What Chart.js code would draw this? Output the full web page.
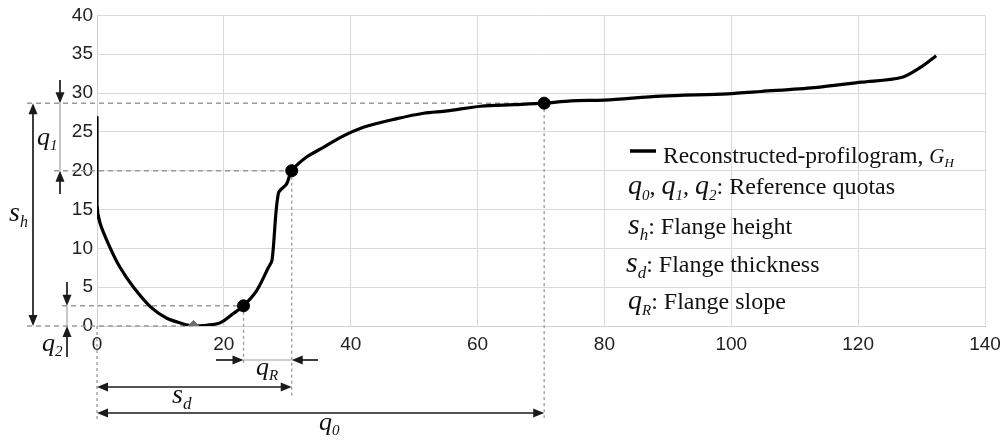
<!DOCTYPE html>
<html>
<head>
<meta charset="utf-8">
<script src="https://cdn.jsdelivr.net/npm/chart.js@4.4.1/dist/chart.umd.min.js"></script>
<style>
  html, body { margin: 0; padding: 0; background: #fff; }
  #wrap { width: 1008px; height: 445px; }
</style>
</head>
<body>
<div id="wrap"><canvas id="profile-chart" width="1008" height="445"></canvas></div>
<script>
// reconstructed profilogram G_H
const profileX = [0, 0, 0.5, 2, 3.6, 5.7, 8.4, 11, 13.5, 15.2, 17.3, 19.4, 21.5, 23.1, 25.2, 27, 27.6, 28.6, 29.9, 30.7,
  33.1, 35.7, 38.4, 42, 47.3, 51.5, 55.2, 60.5, 65.7, 70.5, 74.7, 80, 88.9, 99.4, 104.7, 113.1, 120.5, 126.8, 130, 132.3];
const profileY = [27, 15.6, 13.2, 10.2, 7.6, 5.05, 2.5, 1.0, 0.3, 0, 0.1, 0.4, 1.6, 2.6, 4.6, 7.5, 8.5, 17.1, 18.3, 20,
  21.8, 23.0, 24.3, 25.6, 26.7, 27.4, 27.7, 28.3, 28.5, 28.7, 29.0, 29.1, 29.6, 29.9, 30.2, 30.7, 31.4, 32.0, 33.4, 34.8];

// reference points: q2, q1, q0
const refX = [23.1, 30.7, 70.5];
const refY = [2.6, 20, 28.7];
// lowest point of the flange
const minX = [15.2];
const minY = [0];

const xTicks = [0, 20, 40, 60, 80, 100, 120, 140];
const yTicks = [0, 5, 10, 15, 20, 25, 30, 35, 40];

const ctx = document.getElementById('profile-chart').getContext('2d');

const SERIF = '"Liberation Serif", "DejaVu Serif", serif';
const DARK = '#1a1a1a';

function arrowHead(c, x, y, dx, dy, len, half) {
    // tip at (x,y), pointing along (dx,dy)
    c.beginPath();
    c.moveTo(x, y);
    c.lineTo(x - dx * len - dy * half, y - dy * len + dx * half);
    c.lineTo(x - dx * len + dy * half, y - dy * len - dx * half);
    c.closePath();
    c.fill();
}

function segment(c, x1, y1, x2, y2, color, width) {
    c.strokeStyle = color;
    c.lineWidth = width;
    c.beginPath();
    c.moveTo(x1, y1);
    c.lineTo(x2, y2);
    c.stroke();
}

// arrow from (x1,y1) to (x2,y2); head at the end, and at the start too if both
function arrow(c, x1, y1, x2, y2, both) {
    const L = Math.hypot(x2 - x1, y2 - y1);
    const dx = (x2 - x1) / L, dy = (y2 - y1) / L;
    const len = 11, half = 4.5;
    c.fillStyle = DARK;
    segment(c, x1 + (both ? dx * len * 0.8 : 0), y1 + (both ? dy * len * 0.8 : 0),
        x2 - dx * len * 0.8, y2 - dy * len * 0.8, DARK, 1.7);
    arrowHead(c, x2, y2, dx, dy, len, half);
    if (both) arrowHead(c, x1, y1, -dx, -dy, len, half);
}

// italic symbol with italic subscript
function sym(c, base, sub, x, y, size, subSize) {
    c.fillStyle = '#111';
    c.textBaseline = 'alphabetic';
    c.textAlign = 'left';
    c.font = 'italic ' + size + 'px ' + SERIF;
    c.fillText(base, x, y);
    const w = c.measureText(base).width;
    c.font = 'italic ' + (subSize || Math.round(size * 0.6)) + 'px ' + SERIF;
    c.fillText(sub, x + w, y + size * 0.2);
    return x + w + c.measureText(sub).width;
}

function plain(c, text, x, y, size) {
    c.fillStyle = '#111';
    c.textBaseline = 'alphabetic';
    c.textAlign = 'left';
    c.font = size + 'px ' + SERIF;
    c.fillText(text, x, y);
    return x + c.measureText(text).width;
}

const guides = {
    id: 'guides',
    beforeDatasetsDraw(chart) {
        const c = chart.ctx;
        const { x, y } = chart.scales;
        const px = v => x.getPixelForValue(v);
        const py = v => y.getPixelForValue(v);
        c.save();
        c.setLineDash([5, 4]);
        const g = '#9a9a9a';
        // horizontal reference levels
        segment(c, 27, py(refY[2]), px(refX[2]), py(refY[2]), g, 1.5);
        segment(c, 54, py(refY[1]), px(refX[1]), py(refY[1]), g, 1.5);
        segment(c, 62, py(refY[0]), px(refX[0]), py(refY[0]), g, 1.5);
        segment(c, 27, py(minY[0]), px(minX[0]), py(minY[0]), g, 1.5);
        // vertical drops
        c.setLineDash([3, 3]);
        segment(c, px(0), py(0), px(0), 420, g, 1.3);
        segment(c, px(refX[0]), py(refY[0]), px(refX[0]), 363, g, 1.3);
        segment(c, px(refX[1]), py(refY[1]), px(refX[1]), 398, g, 1.3);
        segment(c, px(refX[2]), py(refY[2]), px(refX[2]), 418, g, 1.3);
        c.restore();
    },
    afterDatasetsDraw(chart) {
        const c = chart.ctx;
        const { x, y } = chart.scales;
        const px = v => x.getPixelForValue(v);
        const py = v => y.getPixelForValue(v);
        c.save();
        const lightLine = '#a0a0a0';

        // s_h
        arrow(c, 33, py(minY[0]), 33, py(refY[2]), true);
        sym(c, 's', 'h', 9, 221, 28, 16);

        // q1
        arrow(c, 60, 80, 60, py(refY[2]), false);
        segment(c, 60, py(refY[2]), 60, py(refY[1]), lightLine, 1.2);
        arrow(c, 60, 194, 60, py(refY[1]), false);
        sym(c, 'q', '1', 37, 145, 26, 15);

        // q2
        arrow(c, 67, 282, 67, py(refY[0]), false);
        segment(c, 67, py(refY[0]), 67, py(minY[0]), lightLine, 1.2);
        arrow(c, 67, 357, 67, py(minY[0]), false);
        sym(c, 'q', '2', 42, 351, 26, 15);

        // qR
        arrow(c, 216, 360, px(refX[0]), 360, false);
        segment(c, px(refX[0]), 360, px(refX[1]), 360, lightLine, 1.2);
        arrow(c, 318, 360, px(refX[1]), 360, false);
        sym(c, 'q', 'R', 256, 375, 26, 15);

        // s_d
        arrow(c, px(0), 387, px(refX[1]), 387, true);
        sym(c, 's', 'd', 172, 403, 28, 17);

        // q0
        arrow(c, px(0), 413, px(refX[2]), 413, true);
        sym(c, 'q', '0', 319, 430, 26, 15);

        // legend text block
        segment(c, 630, 151, 656, 151, '#000', 3.5);
        let e = plain(c, 'Reconstructed-profilogram, ', 663, 163, 23.5);
        sym(c, 'G', 'H', e, 163, 21, 13);

        e = sym(c, 'q', '0', 628, 194, 28, 15);
        e = plain(c, ', ', e, 194, 24);
        e = sym(c, 'q', '1', e, 194, 28, 15);
        e = plain(c, ', ', e, 194, 24);
        e = sym(c, 'q', '2', e, 194, 28, 15);
        plain(c, ': Reference quotas', e, 194, 24);

        e = sym(c, 's', 'h', 628, 234, 30, 17);
        plain(c, ': Flange height', e, 234, 24);

        e = sym(c, 's', 'd', 626, 272, 30, 17);
        plain(c, ': Flange thickness', e, 272, 24);

        e = sym(c, 'q', 'R', 628, 309, 28, 15);
        plain(c, ': Flange slope', e, 309, 24);

        c.restore();
    }
};

const profileData = profileX.map((v, i) => ({ x: v, y: profileY[i] }));
const refData = refX.map((v, i) => ({ x: v, y: refY[i] }));
const minData = minX.map((v, i) => ({ x: v, y: minY[i] }));

new Chart(ctx, {
    type: 'scatter',
    data: {
        datasets: [{
            label: 'Reconstructed-profilogram, GH',
            data: profileData,
            showLine: true,
            borderColor: '#000',
            borderWidth: 3.2,
            pointRadius: 0,
            tension: 0.3,
            order: 2
        }, {
            label: 'reference points',
            data: refData,
            pointRadius: 6,
            pointBackgroundColor: '#000',
            pointBorderColor: '#000',
            order: 1
        }, {
            label: 'minimum',
            data: minData,
            pointStyle: 'rectRot',
            pointRadius: 5.5,
            pointBackgroundColor: '#6e6e6e',
            pointBorderColor: '#6e6e6e',
            order: 1
        }]
    },
    options: {
        responsive: false,
        animation: false,
        layout: { padding: { top: 15, right: 23, left: 0, bottom: 0 } },
        plugins: {
            legend: { display: false },
            tooltip: { enabled: false }
        },
        scales: {
            x: {
                type: 'linear',
                min: 0,
                max: 140,
                afterFit: axis => { axis.height = 119; },
                afterBuildTicks: axis => { axis.ticks = xTicks.map(v => ({ value: v })); },
                grid: { color: '#dadada', lineWidth: 1, drawTicks: false },
                border: { color: '#cfcfcf', width: 1 },
                ticks: {
                    padding: 7,
                    color: '#222',
                    font: { family: '"Liberation Sans", Arial, sans-serif', size: 19 }
                }
            },
            y: {
                min: 0,
                max: 40,
                afterFit: axis => { axis.width = 97; },
                afterBuildTicks: axis => { axis.ticks = yTicks.map(v => ({ value: v })); },
                grid: { color: '#dadada', lineWidth: 1, drawTicks: false },
                border: { color: '#cfcfcf', width: 1 },
                ticks: {
                    padding: 4,
                    color: '#222',
                    font: { family: '"Liberation Sans", Arial, sans-serif', size: 19 }
                }
            }
        }
    },
    plugins: [guides]
});
</script>
</body>
</html>
